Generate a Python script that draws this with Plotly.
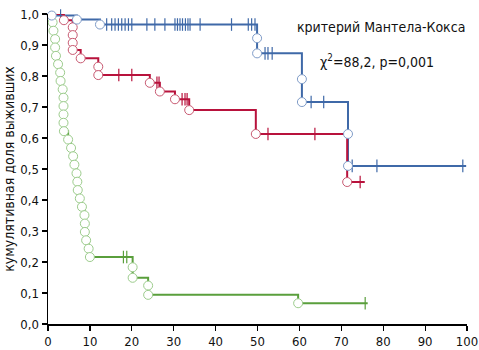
import plotly.graph_objects as go

# ---------------- data ----------------
x_ticks = [0, 10, 20, 30, 40, 50, 60, 70, 80, 90, 100]
y_ticks = [0.0, 0.1, 0.2, 0.3, 0.4, 0.5, 0.6, 0.7, 0.8, 0.9, 1.0]

# Blue group
blue_event_t = [0.9, 6.9, 12.4, 49.9, 49.9, 60.6, 60.6, 71.6, 71.6]
blue_event_s = [0.995, 0.982, 0.966, 0.922, 0.873, 0.790, 0.716, 0.613, 0.510]
blue_end_t = 99.8
blue_cens_t = [3.0, 14.0, 15.2, 16.0, 16.8, 17.6, 18.4, 19.2, 20.0, 23.6, 25.5,
               27.9, 30.3, 30.9, 31.5, 32.1, 32.8, 33.4, 33.9, 36.3, 43.8, 47.8,
               48.6, 49.4, 51.8, 52.5, 53.5, 62.8, 65.8, 72.6, 78.5, 99.0]

# Red group
red_event_t = [3.8, 5.9, 5.9, 5.9, 5.9, 7.8, 12.0, 12.0, 24.3, 26.7, 30.3,
               33.7, 49.6, 71.4]
red_event_s = [0.980, 0.957, 0.932, 0.907, 0.884, 0.857, 0.830, 0.803, 0.778,
               0.750, 0.725, 0.690, 0.613, 0.458]
red_end_t = 75.6
red_cens_t = [16.9, 20.0, 26.0, 26.5, 32.0, 32.7, 33.2, 52.5, 63.7, 74.5]

# Green group
green_event_t = [1.1, 1.3, 1.7, 1.7, 1.9, 2.4, 2.9, 3.0, 3.5, 3.7, 3.7, 3.7,
                 3.7, 3.8, 4.8, 5.5, 6.0, 6.3, 6.8, 7.0, 7.1, 7.6, 8.1, 8.7,
                 8.8, 8.8, 9.1, 9.7, 10.0, 20.2, 20.2, 23.9, 23.9, 59.7]
green_event_s = [0.973, 0.946, 0.919, 0.892, 0.865, 0.838, 0.811, 0.784,
                 0.757, 0.730, 0.703, 0.676, 0.649, 0.622, 0.595, 0.568,
                 0.541, 0.514, 0.486, 0.459, 0.432, 0.405, 0.378, 0.351,
                 0.324, 0.297, 0.270, 0.243, 0.216, 0.183, 0.149, 0.124,
                 0.094, 0.067]
green_end_t = 76.3
green_cens_t = [18.0, 18.8, 75.7]

title_y = "кумулятивная доля выживших"
note_1 = "критерий Мантела-Кокса"
note_2 = "χ<sup>2</sup>=88,2, p=0,001"

# ---------------- styles ----------------
FONT = "Liberation Sans Narrow, DejaVu Sans Condensed, Roboto, Arial Narrow, sans-serif"
groups = [
    dict(t=blue_event_t, s=blue_event_s, end=blue_end_t, cens=blue_cens_t,
         line="#3f69a8", circ="#7f9cc8"),
    dict(t=red_event_t, s=red_event_s, end=red_end_t, cens=red_cens_t,
         line="#b8123c", circ="#c85a72"),
    dict(t=green_event_t, s=green_event_s, end=green_end_t, cens=green_cens_t,
         line="#5a9f3c", circ="#9ccc8c"),
]


def level_at(ts, ss, t):
    lvl = 1.0
    for ti, si in zip(ts, ss):
        if ti <= t:
            lvl = si
    return lvl


fig = go.Figure()

# step lines
for g in groups:
    xs = [0.0] + g["t"] + [g["end"]]
    ys = [1.0] + g["s"] + [g["s"][-1]]
    fig.add_trace(go.Scatter(x=xs, y=ys, mode="lines", line_shape="hv",
                             line=dict(color=g["line"], width=2),
                             cliponaxis=False, hoverinfo="skip"))

# censor ticks
for g in groups:
    cy = [level_at(g["t"], g["s"], c) for c in g["cens"]]
    fig.add_trace(go.Scatter(x=g["cens"], y=cy, mode="markers",
                             marker=dict(symbol="line-ns", size=9,
                                         line=dict(color=g["line"], width=1.2)),
                             cliponaxis=False, hoverinfo="skip"))

# event circles
for g in reversed(groups):
    fig.add_trace(go.Scatter(x=g["t"], y=g["s"], mode="markers",
                             marker=dict(symbol="circle", size=9, color="white",
                                         line=dict(color=g["circ"], width=1)),
                             cliponaxis=False, hoverinfo="skip"))

fig.add_annotation(x=79.5, y=0.958, xref="x", yref="y", text=note_1,
                   showarrow=False, xanchor="center", yanchor="middle",
                   font=dict(size=14, family=FONT, color="#111"))
fig.add_annotation(x=78.5, y=0.848, xref="x", yref="y", text=note_2,
                   showarrow=False, xanchor="center", yanchor="middle",
                   font=dict(size=14, family=FONT, color="#111"))

axis_common = dict(showline=True, linecolor="black", linewidth=1.5,
                   ticks="outside", ticklen=5, tickwidth=1.2, tickcolor="black",
                   showgrid=False, zeroline=False, automargin=False,
                   tickfont=dict(size=13, family=FONT, color="#111"))

fig.update_xaxes(range=[0, 100], tickvals=x_ticks, **axis_common)
fig.update_yaxes(range=[0, 1.0], tickvals=y_ticks, tickformat=".1f",
                 title=dict(text=title_y, font=dict(size=14, family=FONT, color="#111"),
                            standoff=2),
                 **axis_common)

fig.update_layout(width=479, height=350, margin=dict(l=48, r=12, t=14, b=26),
                  paper_bgcolor="white", plot_bgcolor="white",
                  showlegend=False, separators=",.",
                  font=dict(family=FONT, color="#111"))

fig.write_html("out.html",
               config={"displayModeBar": False, "staticPlot": True},
               post_script="document.body.style.margin='0';"
                           "document.body.style.overflow='hidden';")
